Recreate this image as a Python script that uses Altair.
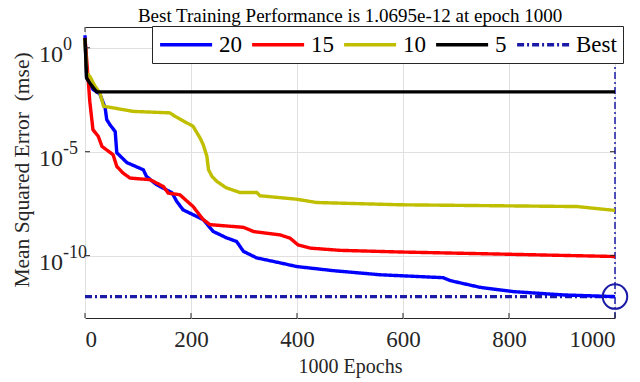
import altair as alt
import pandas as pd

# Training curves (mse per epoch) for networks with 20, 15, 10 and 5 hidden neurons
epochs_20 = [0, 3, 15, 28, 38, 41, 47, 57, 60, 79, 110, 116, 135, 164, 173, 185, 204, 223,
             242, 267, 286, 299, 324, 368, 399, 468, 557, 676, 689, 745, 808, 902, 1000]
mse_20 = [4.0, 3.7e-2, 1.0e-2, 6.0e-3, 1.3e-3, 3.5e-4, 2.0e-4, 9.3e-5, 8.9e-6, 3.0e-6,
          1.35e-6, 6.5e-7, 2.6e-7, 1.07e-7, 4.1e-8, 1.6e-8, 9.3e-9, 5.4e-9, 1.45e-9,
          7.2e-10, 4.8e-10, 1.6e-10, 7.8e-11, 4.5e-11, 3.0e-11, 1.9e-11, 1.2e-11,
          8.7e-12, 6.3e-12, 3.0e-12, 1.86e-12, 1.29e-12, 1.0695e-12]

epochs_15 = [0, 6, 9, 15, 25, 32, 53, 60, 72, 85, 123, 148, 157, 179, 204, 223, 236, 299,
             318, 368, 387, 402, 425, 481, 594, 1000]
mse_15 = [3.0, 2.95e-2, 2.7e-3, 1.15e-4, 5.5e-5, 1.8e-5, 7.2e-6, 1.95e-6, 9.3e-7, 5.4e-7,
          4.5e-7, 2.1e-7, 1.02e-7, 8.5e-8, 2.3e-8, 5.4e-9, 3.1e-9, 2.3e-9, 1.45e-9,
          1.0e-9, 6.9e-10, 3.3e-10, 2.3e-10, 1.8e-10, 1.5e-10, 9.1e-11]

epochs_10 = [0, 3, 9, 19, 28, 35, 91, 160, 170, 204, 217, 223, 230, 233, 240, 249, 266,
             292, 324, 330, 399, 437, 594, 928, 1000]
mse_10 = [2.5, 6.0e-2, 4.3e-2, 1.4e-2, 6.8e-3, 1.55e-3, 8.7e-4, 7.4e-4, 5.0e-4, 1.66e-4,
          4.6e-5, 2.2e-5, 6.0e-6, 1.35e-6, 6.3e-7, 3.7e-7, 1.86e-7, 1.1e-7, 1.1e-7,
          7.6e-8, 5.2e-8, 3.6e-8, 2.8e-8, 2.3e-8, 1.5e-8]

epochs_5 = [0, 3, 9, 16, 22, 1000]
mse_5 = [3.0, 3.5e-2, 2.0e-2, 1.17e-2, 7.6e-3, 7.6e-3]

best_epoch = 1000
best_mse = 1.0695e-12

series_order = ["20", "15", "10", "5", "Best"]
series_colors = ["#0000ff", "#ff0000", "#bfbf00", "#000000", "#1a1aa6"]
series_dash = [[1, 0], [1, 0], [1, 0], [1, 0], [7, 3, 2, 3]]
series_width = [3.4, 3.4, 3.4, 3.4, 1.5]

x_ticks = [0, 200, 400, 600, 800, 1000]
y_ticks = [1, 1e-5, 1e-10]
y_tick_exp = ["0", "-5", "-10"]

title_text = "Best Training Performance is 1.0695e-12 at epoch 1000"
y_title = "Mean Squared Error\u00a0 (mse)"

W, H = 530, 291
FONT = "Liberation Serif"
INK = "#262626"
NAVY = "#1a1aa6"

rows = []
for name, ep, ms in [("20", epochs_20, mse_20), ("15", epochs_15, mse_15),
                     ("10", epochs_10, mse_10), ("5", epochs_5, mse_5)]:
    rows += [{"epoch": e, "mse": m, "series": name} for e, m in zip(ep, ms)]
best_rows = [{"epoch": 0, "mse": best_mse, "series": "Best"},
             {"epoch": best_epoch, "mse": best_mse, "series": "Best"}]
df = pd.DataFrame(best_rows + rows)

x_scale = alt.Scale(domain=[0, 1000], nice=False)
y_scale = alt.Scale(type="log", domain=[1e-13, 10], nice=False)

x_axis = alt.Axis(values=x_ticks, format="d", grid=True, ticks=False, domain=False,
                  labelFont=FONT, labelFontSize=23, labelColor=INK,
                  labelPadding=10, title="1000 Epochs", titleFont=FONT,
                  titleFontSize=20, titleFontWeight="normal", titleColor=INK,
                  titlePadding=5, gridColor="#e0e0e0")
y_axis = alt.Axis(values=y_ticks, grid=True, ticks=False, domain=False,
                  labels=False, title=y_title,
                  titleFont=FONT, titleFontSize=21.5, titleFontWeight="normal",
                  titleColor=INK, titleX=-63, titleY=H / 2 - 3,
                  titleAlign="center", titleBaseline="middle",
                  gridColor="#e0e0e0")

# legend line sample drawn from the entry's left edge, five half-sizes long
legend_symbol = "M-1,0H4"

lines = alt.Chart(df).mark_line().encode(
    x=alt.X("epoch:Q", scale=x_scale, axis=x_axis),
    y=alt.Y("mse:Q", scale=y_scale, axis=y_axis),
    color=alt.Color("series:N", sort=series_order,
                    scale=alt.Scale(domain=series_order, range=series_colors),
                    legend=alt.Legend(title=None, orient="none", legendX=67, legendY=-1,
                                      direction="horizontal", symbolType=legend_symbol,
                                      symbolSize=433, labelFont=FONT, labelFontSize=23,
                                      labelColor="#000000", labelOffset=36,
                                      columnPadding=3, padding=6, strokeColor=INK,
                                      fillColor="white", symbolStrokeWidth=3)),
    strokeDash=alt.StrokeDash("series:N", sort=series_order,
                              scale=alt.Scale(domain=series_order, range=series_dash),
                              legend=alt.Legend(title=None)),
    strokeWidth=alt.StrokeWidth("series:N", sort=series_order,
                                scale=alt.Scale(domain=series_order, range=series_width),
                                legend=alt.Legend(title=None)),
    order=alt.Order("epoch:Q"),
)

best_vline = alt.Chart(pd.DataFrame({"e": [best_epoch]})).mark_rule(
    color=NAVY, strokeWidth=1.5, strokeDash=[7, 3, 2, 3]
).encode(x=alt.X("e:Q", scale=x_scale, axis=x_axis))

best_circle = alt.Chart(pd.DataFrame({"e": [best_epoch], "m": [best_mse]})).mark_point(
    shape="circle", filled=False, size=600, color=NAVY, strokeWidth=2, opacity=1
).encode(x=alt.X("e:Q", scale=x_scale, axis=x_axis),
         y=alt.Y("m:Q", scale=y_scale, axis=y_axis))

# inward tick marks on all four sides of the box
xt = pd.DataFrame({"t": x_ticks})
yt = pd.DataFrame({"v": y_ticks, "base": ["10"] * len(y_ticks), "exp": y_tick_exp})
tick_style = dict(color=INK, strokeWidth=1)
ticks_bottom = alt.Chart(xt).mark_rule(**tick_style).encode(
    x=alt.X("t:Q", scale=x_scale, axis=x_axis), y=alt.value(H), y2=alt.value(H - 5))
ticks_top = alt.Chart(xt).mark_rule(**tick_style).encode(
    x=alt.X("t:Q", scale=x_scale, axis=x_axis), y=alt.value(0), y2=alt.value(5))
ticks_left = alt.Chart(yt).mark_rule(**tick_style).encode(
    y=alt.Y("v:Q", scale=y_scale, axis=y_axis), x=alt.value(0), x2=alt.value(5))
ticks_right = alt.Chart(yt).mark_rule(**tick_style).encode(
    y=alt.Y("v:Q", scale=y_scale, axis=y_axis), x=alt.value(W), x2=alt.value(W - 5))

# power-of-ten labels drawn as base plus raised exponent
ylab_base = alt.Chart(yt).mark_text(
    font=FONT, fontSize=24, color=INK, align="right", baseline="middle", dy=7
).encode(y=alt.Y("v:Q", scale=y_scale, axis=y_axis), x=alt.value(-22), text="base:N")
ylab_exp = alt.Chart(yt).mark_text(
    font=FONT, fontSize=18, color=INK, align="left", baseline="middle", dy=-3
).encode(y=alt.Y("v:Q", scale=y_scale, axis=y_axis), x=alt.value(-22), text="exp:N")

title = alt.Chart(pd.DataFrame({"t": [title_text]})).mark_text(
    font=FONT, fontSize=19, color="#000000", align="center", baseline="middle"
).encode(text="t:N", x=alt.value(W / 2), y=alt.value(-11))

chart = alt.layer(
    best_vline, lines, best_circle, ticks_bottom, ticks_top, ticks_left, ticks_right,
    ylab_base, ylab_exp, title
).properties(
    width=W, height=H,
    autosize=alt.AutoSizeParams(type="none"),
    padding={"left": 85, "top": 27, "right": 25, "bottom": 64},
).configure_view(stroke=INK, strokeWidth=1)

chart.save("out.html", embed_options={"renderer": "svg", "actions": False})
